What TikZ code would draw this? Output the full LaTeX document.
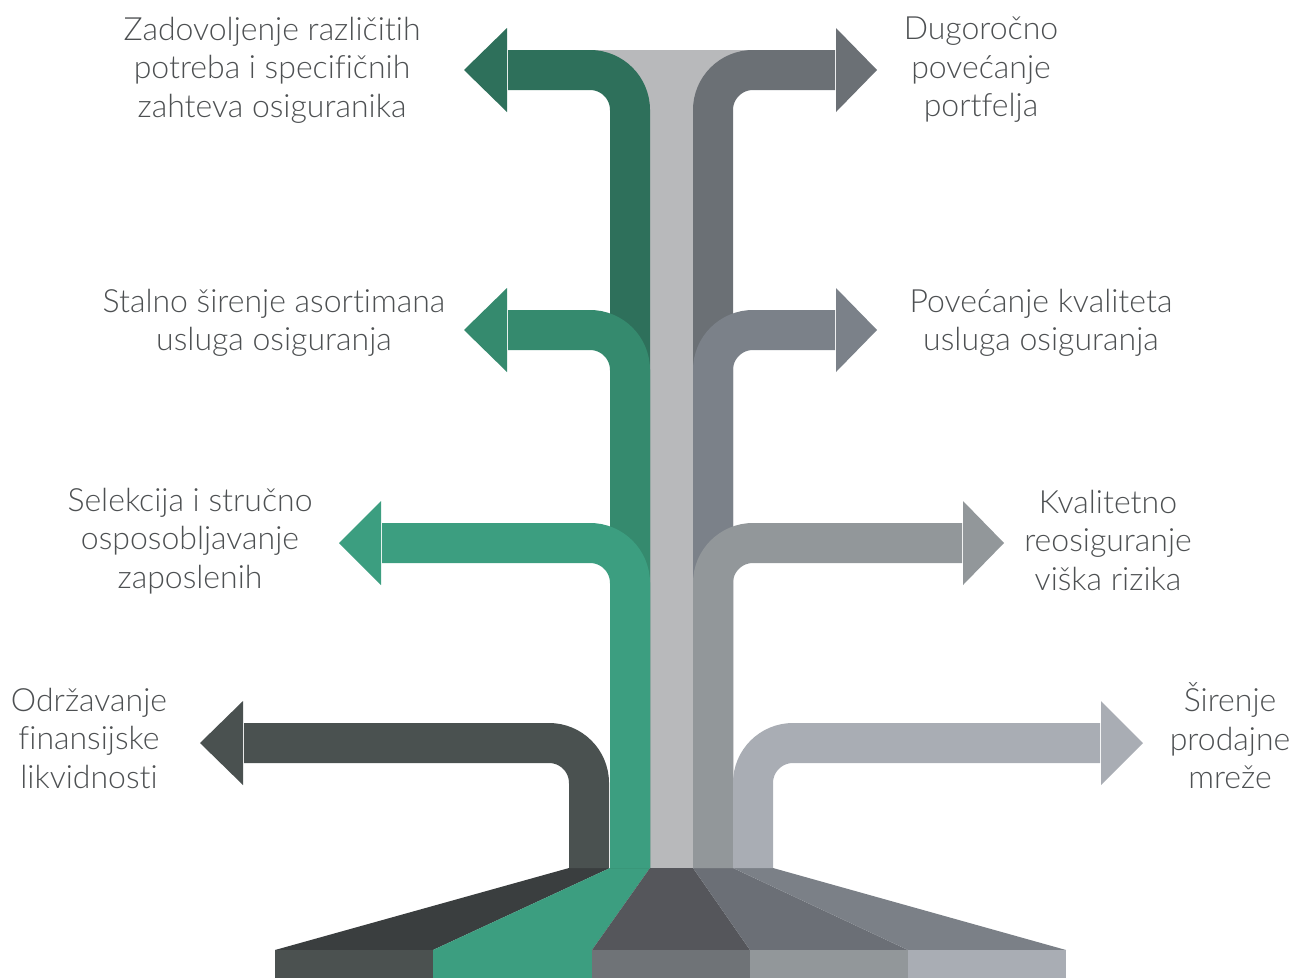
\documentclass[tikz,border=0pt]{standalone}
\usepackage{fontspec}
\setmainfont[Ligatures=NoCommon]{Lato Light}
\usetikzlibrary{positioning}

\definecolor{txt}{HTML}{4D5052}
\definecolor{trunk}{HTML}{B8B9BB}
\definecolor{dkgreen}{HTML}{2E705B}
\definecolor{midgreen}{HTML}{358A6E}
\definecolor{green}{HTML}{3C9E80}
\definecolor{slate}{HTML}{4A5150}
\definecolor{greyA}{HTML}{6B7075}
\definecolor{greyB}{HTML}{7B8189}
\definecolor{greyC}{HTML}{92979A}
\definecolor{greyD}{HTML}{A9ADB4}
\definecolor{baseA}{HTML}{3A3E3F}
\definecolor{baseC}{HTML}{55565B}
\definecolor{baseD}{HTML}{6B6F76}
\definecolor{baseE}{HTML}{7B8087}
\definecolor{footA}{HTML}{4B5150}
\definecolor{footC}{HTML}{6F7377}

\begin{document}
\begin{tikzpicture}[
      x=1pt, y=-1pt,
      band/.style={line width=40pt, rounded corners=40pt},
      lbl/.style={align=center, text=txt, font=\fontsize{32}{38.5}\selectfont, inner sep=0pt}
    ]
    \useasboundingbox (0,0) rectangle (1294,978);

    % trunk
    \fill[trunk] (650,50) rectangle (693,868);
    \fill[trunk] (590,50) rectangle (753,90);
    \fill[trunk] (610,50) rectangle (733,110);

    % base
    \fill[baseA] (569,868) -- (610,868) -- (433,950) -- (275,950) -- cycle;
    \fill[green] (610,868) -- (650,868) -- (592,950) -- (433,950) -- cycle;
    \fill[baseC] (650,868) -- (693,868) -- (750,950) -- (592,950) -- cycle;
    \fill[baseD] (693,868) -- (733,868) -- (908,950) -- (750,950) -- cycle;
    \fill[baseE] (733,868) -- (773,868) -- (1066,950) -- (908,950) -- cycle;
    \fill[footA] (275,950) rectangle (433,978);
    \fill[green] (433,950) rectangle (592,978);
    \fill[footC] (592,950) rectangle (750,978);
    \fill[greyC] (750,950) rectangle (908,978);
    \fill[greyD] (908,950) rectangle (1066,978);

    % left arrows
    \draw[band, dkgreen] (630,868) -- (630,70) -- (508,70);
    \fill[dkgreen] (507,28) -- (464,70) -- (507,112) -- cycle;
    \draw[band, midgreen] (630,868) -- (630,330) -- (508,330);
    \fill[midgreen] (507,288) -- (464,330) -- (507,372) -- cycle;
    \draw[band, green] (630,868) -- (630,543) -- (382,543);
    \fill[green] (381,501) -- (339,543) -- (381,585) -- cycle;
    \draw[band, slate] (589,868) -- (589,743) -- (244,743);
    \fill[slate] (243,701) -- (200,743) -- (243,785) -- cycle;

    % right arrows
    \draw[band, greyA] (713,868) -- (713,70) -- (835,70);
    \fill[greyA] (836,28) -- (877,70) -- (836,112) -- cycle;
    \draw[band, greyB] (713,868) -- (713,330) -- (835,330);
    \fill[greyB] (836,288) -- (877,330) -- (836,372) -- cycle;
    \draw[band, greyC] (713,868) -- (713,543) -- (962,543);
    \fill[greyC] (963,501) -- (1004,543) -- (963,585) -- cycle;
    \draw[band, greyD] (753,868) -- (753,743) -- (1100,743);
    \fill[greyD] (1101,701) -- (1143,743) -- (1101,785) -- cycle;

    % labels
    \node[lbl] (needs) at (272,70) {Zadovoljenje različitih\\potreba i specifičnih\\zahteva osiguranika};
    \node[lbl] (range) at (274,323) {Stalno širenje asortimana\\usluga osiguranja};
    \node[lbl] (staff) at (190,541) {Selekcija i stručno\\osposobljavanje\\zaposlenih};
    \node[lbl] (liquid) at (89,738) {Održavanje\\finansijske\\likvidnosti};
    \node[lbl] (growth) at (981,70) {Dugoročno\\povećanje\\portfelja};
    \node[lbl] (quality) at (1041,323) {Povećanje kvaliteta\\usluga osiguranja};
    \node[lbl] (reins) at (1108,540) {Kvalitetno\\reosiguranje\\viška rizika};
    \node[lbl] (network) at (1230,736) {Širenje\\prodajne\\mreže};
  \end{tikzpicture}
\end{document}
